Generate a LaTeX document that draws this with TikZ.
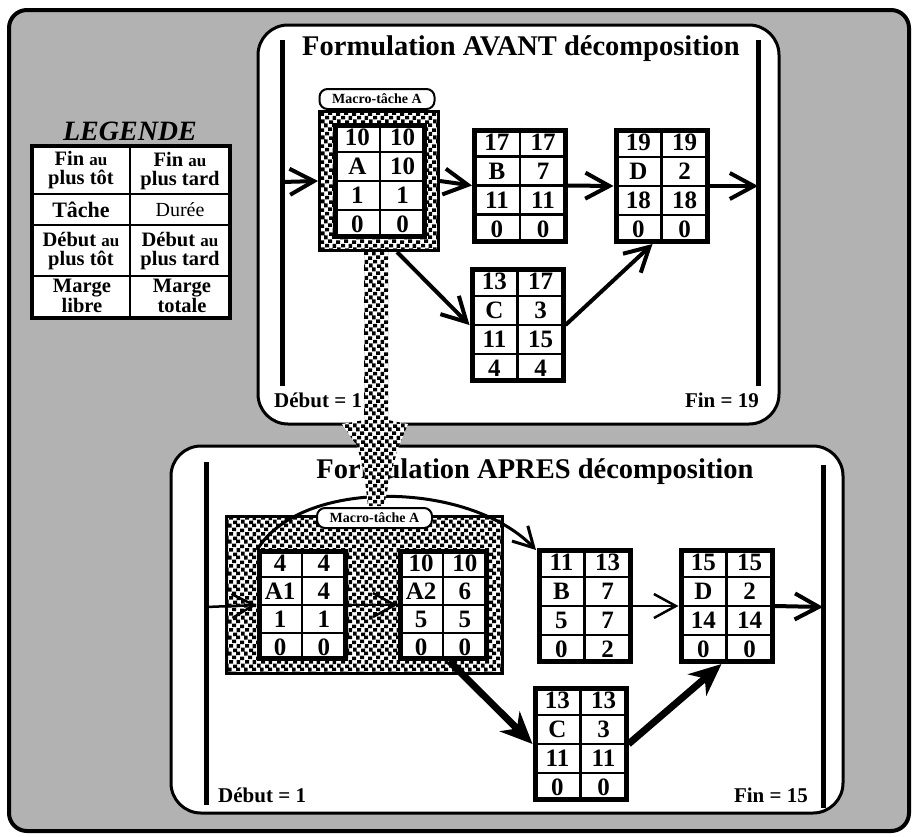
\documentclass[tikz,border=0pt]{standalone}
\usepackage{fontspec}
\setmainfont{Liberation Serif}
\usetikzlibrary{arrows.meta,calc,patterns}

\pgfdeclarepatternformonly{stip}{\pgfpoint{-1pt}{-1pt}}{\pgfpoint{17pt}{17pt}}{\pgfpoint{16pt}{16pt}}{%
  \pgfpathrectangle{\pgfpoint{0pt}{0pt}}{\pgfpoint{4pt}{3.5pt}}%
  \pgfpathrectangle{\pgfpoint{8pt}{1pt}}{\pgfpoint{4pt}{3.5pt}}%
  \pgfpathrectangle{\pgfpoint{4pt}{4.5pt}}{\pgfpoint{3.5pt}{4pt}}%
  \pgfpathrectangle{\pgfpoint{12pt}{5pt}}{\pgfpoint{4pt}{3.5pt}}%
  \pgfpathrectangle{\pgfpoint{1pt}{8.5pt}}{\pgfpoint{3.5pt}{4pt}}%
  \pgfpathrectangle{\pgfpoint{9pt}{8pt}}{\pgfpoint{4pt}{3.5pt}}%
  \pgfpathrectangle{\pgfpoint{5pt}{12.5pt}}{\pgfpoint{4pt}{3.5pt}}%
  \pgfpathrectangle{\pgfpoint{12.5pt}{12pt}}{\pgfpoint{3.5pt}{4pt}}%
  \pgfusepath{fill}}

\newcommand\sm[1]{{\fontsize{17}{17}\selectfont #1}}

\newcommand\tbox[4][]{%
  \node[tbox,#1] (#2) at (#3) {};
  \draw[tgrid] (#2.north) -- (#2.south);
  \foreach \k in {1,2,3}{%
    \draw[tgrid] ($(#2.north west)!\k/4!(#2.south west)$) -- ($(#2.north east)!\k/4!(#2.south east)$);}
  \foreach \l/\r [count=\i] in {#4}{%
    \path let \p1=(#2.north west), \p2=(#2.south east) in
      node[tnum] (#2-l\i) at ({\x1+0.26*(\x2-\x1)},{\y1+(\i-0.5)*(\y2-\y1)/4}) {\l}
      node[tnum] (#2-r\i) at ({\x1+0.74*(\x2-\x1)},{\y1+(\i-0.5)*(\y2-\y1)/4}) {\r};}%
}

\tikzset{
  tbox/.style={draw, line width=5pt, fill=white, minimum width=91pt, minimum height=111pt, inner sep=0pt},
  small/.style={minimum width=86pt, minimum height=107pt},
  tgrid/.style={line width=2.5pt},
  tnum/.style={font=\fontsize{25}{25}\selectfont\bfseries, inner sep=0pt},
  title/.style={font=\fontsize{28.5}{28.5}\selectfont\bfseries, inner sep=0pt, anchor=base},
  lab/.style={font=\fontsize{21}{21}\selectfont\bfseries, inner sep=0pt, anchor=base},
  mlabel/.style={draw, fill=white, line width=2pt, rounded corners=8pt, minimum width=115pt,
     minimum height=20pt, inner sep=0pt, font=\fontsize{14}{14}\selectfont\bfseries},
  macrobox/.style={draw, line width=3pt, preaction={fill=white}, pattern=stip, inner sep=0pt},
  bar/.style={line width=5pt},
  arr/.style={line width=4pt, -{Straight Barb[length=24pt,width=26pt]}},
  thin/.style={line width=2.5pt, -{Straight Barb[length=22pt,width=24pt]}},
  fat/.style={line width=7pt, -{Stealth[length=32pt,width=28pt,inset=10pt]}},
  legtxt/.style={align=center, inner sep=0pt, font=\fontsize{20.5}{19.5}\selectfont\bfseries},
}

\begin{document}
\begin{tikzpicture}[x=1pt,y=-1pt]
\useasboundingbox (0,0) rectangle (915,836);

% outer frame
\draw[line width=4pt, fill=black!30, rounded corners=18pt] (9,10) rectangle (909,831);

% panels
\draw[line width=3pt, fill=white, rounded corners=30pt] (258,25) rectangle (779,424);
\draw[line width=3pt, fill=white, rounded corners=30pt] (171,446) rectangle (843,813);

% legend
\node[font=\fontsize{28}{28}\selectfont\bfseries\itshape, inner sep=0pt] (legT) at (130,131) {LEGENDE};
\draw[line width=4.5pt, fill=white] (32,146) rectangle (230,318);
\draw[line width=2.5pt] (130,146) -- (130,318);
\foreach \yy in {194,225,276} \draw[line width=2.5pt] (32,\yy) -- (230,\yy);
\node[legtxt] (leg1) at (81,170) {Fin \sm{au}\\plus tôt};
\node[legtxt] (leg2) at (180,171) {Fin \sm{au}\\plus tard};
\node[legtxt, font=\fontsize{22}{22}\selectfont\bfseries] (leg3) at (81,210) {Tâche};
\node[legtxt, font=\fontsize{20}{20}\selectfont] (leg4) at (180,210) {Durée};
\node[legtxt] (leg5) at (81,251) {Début \sm{au}\\plus tôt};
\node[legtxt] (leg6) at (180,251) {Début \sm{au}\\plus tard};
\node[legtxt] (leg7) at (82,296) {Marge\\libre};
\node[legtxt] (leg8) at (182,296) {Marge\\totale};

% bars
\draw[bar] (282,40) -- (282,386);
\draw[bar] (758,40) -- (758,386);
\draw[bar] (206,462) -- (206,805);
\draw[bar] (823,465) -- (823,808);
\coordinate (inT) at (282,182);
\coordinate (outT) at (758,186);
\coordinate (inB) at (206,607);
\coordinate (outB) at (823,607);

% titles and labels
\node[title] (t1) at (521,55) {Formulation AVANT décomposition};
\node[title] (t2) at (535,478) {Formulation APRES décomposition};
\node[lab, anchor=base west] (d1) at (274,407) {Début = 1};
\node[lab, anchor=base east] (f1) at (759,407) {Fin = 19};
\node[lab, anchor=base west] (d2) at (218,802) {Début = 1};
\node[lab, anchor=base east] (f2) at (808,802) {Fin = 15};

% macro boxes
\node[macrobox, minimum width=119pt, minimum height=139pt] (mtop) at (379,181) {};
\node[macrobox, minimum width=276pt, minimum height=157pt] (mbot) at (364.5,595) {};

% curved link over the macro task
\draw[line width=3pt, -{Straight Barb[length=20pt,width=22pt]}]
  (257,550) .. controls (300,478) and (468,480) .. (536,550);

% stippled band linking the two formulations
\path[preaction={fill=white}, pattern=stip]
  (364,252) -- (388,252) -- (388,420) -- (408,424) -- (399,446) -- (391,472) -- (384,506)
  -- (368,506) -- (364,472) -- (357,446) -- (342,424) -- (364,420) -- cycle;

% task boxes (top)
\tbox[minimum width=89pt]{A}{380,181}{10/10,A/10,1/1,0/0}
\tbox{B}{520,185.5}{17/17,B/7,11/11,0/0}
\tbox{D}{661.5,186}{19/19,D/2,18/18,0/0}
\tbox{C}{517.5,325}{13/17,C/3,11/15,4/4}

% task boxes (bottom)
\tbox[small]{A1}{302,605}{4/4,A1/4,1/1,0/0}
\tbox[small]{A2}{443,605}{10/10,A2/6,5/5,0/0}
\tbox{B2}{584.5,606}{11/13,B/7,5/7,0/2}
\tbox{D2}{726.5,606}{15/15,D/2,14/14,0/0}
\tbox{C2}{580.5,744}{13/13,C/3,11/11,0/0}

% arrows (top)
\draw[arr] (inT) -- (mtop.west);
\draw[arr] (mtop.east) -- (B.west);
\draw[arr] (B.east) -- (D.west);
\draw[arr] (D.east) -- (outT);
\draw[arr] ([xshift=18pt]mtop.south) -- (C.west);
\draw[arr] (C.east) -- ([xshift=-9pt]D.south);

% arrows (bottom)
\draw[thin] (inB) -- (A1.west);
\draw[thin] (A1.east) -- (A2.west);
\draw[thin] (B2.east) -- (D2.west);
\draw[arr] (D2.east) -- (outB);
\draw[fat] ([xshift=6pt]A2.south) -- (C2.west);
\draw[fat] (C2.east) -- ([xshift=-5pt]D2.south);

% macro labels
\node[mlabel] (mlabT) at (377,99) {Macro-tâche A};
\node[mlabel] (mlabB) at (374.5,518) {Macro-tâche A};
\end{tikzpicture}
\end{document}
